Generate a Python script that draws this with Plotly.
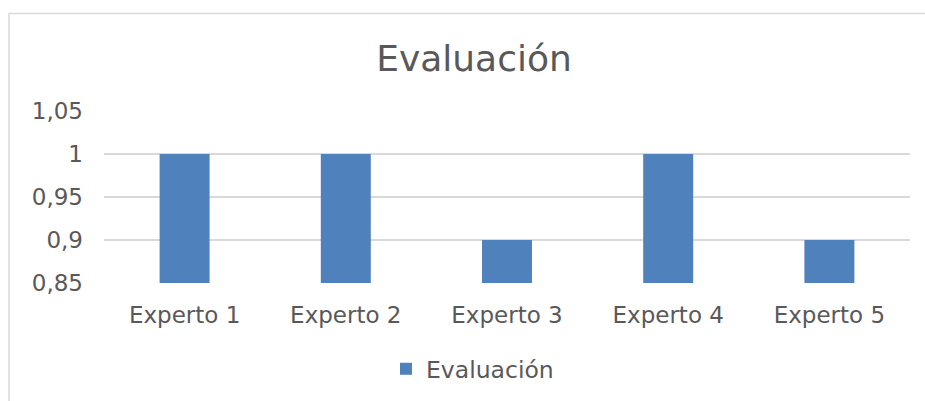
import plotly.graph_objects as go

categories = ["Experto 1", "Experto 2", "Experto 3", "Experto 4", "Experto 5"]
values = [1.0, 1.0, 0.9, 1.0, 0.9]
series_name = "Evaluación"
tick_vals = [0.85, 0.9, 0.95, 1.0, 1.05]
tick_text = ["0,85", "0,9", "0,95", "1", "1,05"]

FONT = "DejaVu Sans, Verdana, sans-serif"
GREY = "#595959"

fig = go.Figure()
fig.add_trace(go.Bar(x=categories, y=values, name=series_name,
                     marker=dict(color="#4f81bd", line=dict(width=0))))

L, R, T, B = 104, 15, 111, 117
W, H = 925, 401
pw = W - L - R
ph = H - T - B

fig.update_layout(
    width=W, height=H,
    margin=dict(l=L, r=R, t=T, b=B),
    paper_bgcolor="white", plot_bgcolor="white",
    font=dict(family=FONT, color=GREY, size=23),
    bargap=0.69,
    showlegend=True,
    title=dict(text="Evaluación", x=(474 - L) / pw, xref="paper", xanchor="center",
               y=(H - 58) / H, yanchor="middle", font=dict(size=36, color=GREY)),
    legend=dict(orientation="h", x=(386 - L) / pw, xanchor="left",
                y=(ph + T - 369) / ph, yanchor="middle",
                font=dict(size=23.5, color=GREY), itemwidth=30),
    xaxis=dict(showgrid=False, showline=False, ticks="", ticklabelstandoff=16,
               tickfont=dict(size=23, color=GREY)),
    yaxis=dict(range=[0.85, 1.05], tickvals=tick_vals, ticktext=tick_text,
               showgrid=True, gridcolor="#d9d9d9", gridwidth=1.5, zeroline=False,
               showline=False, ticks="", ticklabelstandoff=20,
               tickfont=dict(size=23, color=GREY)),
)

fig.add_shape(type="rect", xref="paper", yref="paper",
              x0=(9 - L) / pw, x1=1.2, y0=-1.0, y1=(ph + T - 13) / ph,
              line=dict(color="#d9d9d9", width=1.5), fillcolor="rgba(0,0,0,0)", layer="below")

fig.write_html("out.html", config={"displayModeBar": False},
               post_script="document.body.style.margin='0px';document.body.style.overflow='hidden';")
